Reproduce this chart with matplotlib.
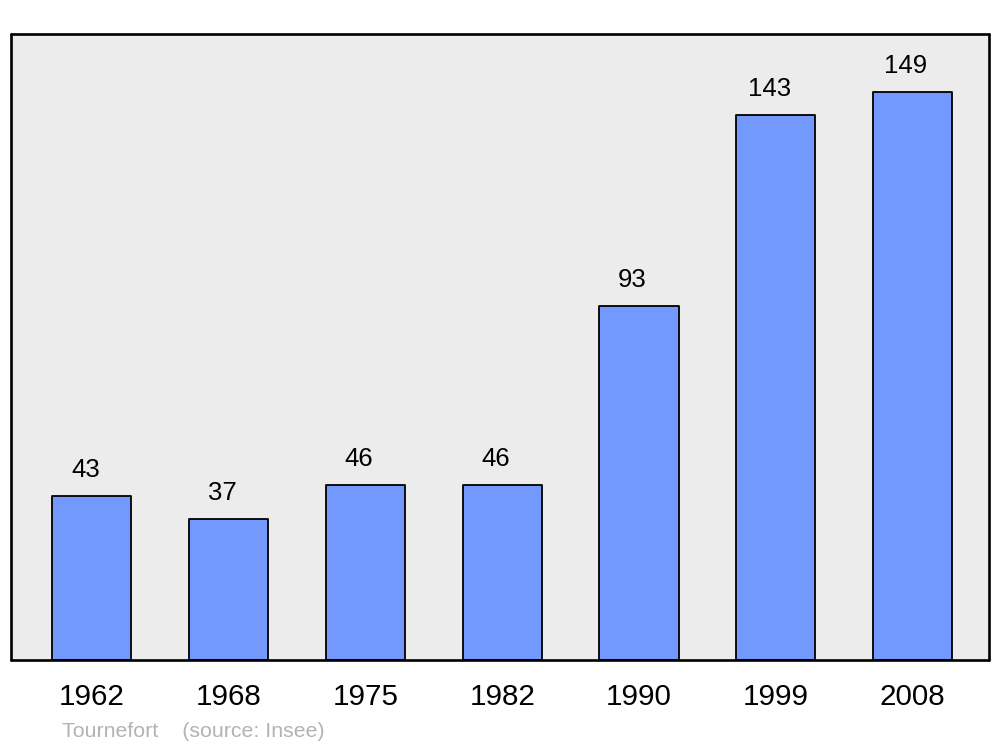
import matplotlib.pyplot as plt

plt.rcParams['font.family'] = ['Liberation Sans', 'DejaVu Sans']

years = ['1962', '1968', '1975', '1982', '1990', '1999', '2008']
population = [43, 37, 46, 46, 93, 143, 149]

fig = plt.figure(figsize=(10, 7.47), dpi=100)
ax = fig.add_axes([0.011, 0.1165, 0.978, 0.838])
ax.set_facecolor('#ececec')

pos = list(range(len(years)))
bars = ax.bar(pos, population, width=0.578, color='#7399ff',
              edgecolor='black', linewidth=1.3, zorder=2)
for b in bars:
    b.set_joinstyle('round')

for x, v in zip(pos, population):
    ax.annotate(str(v), (x, v), xytext=(-4.8, 13.7), textcoords='offset points',
                ha='center', va='baseline', fontsize=18.5)

ax.set_xlim(-0.592, 6.559)
ax.set_ylim(0, 164.3)
ax.set_yticks([])
ax.set_xticks(pos, years, fontsize=21.3)
ax.tick_params(axis='x', length=0, pad=16.5)

for s in ax.spines.values():
    s.set_linewidth(1.9)
    s.set_joinstyle('round')
    s.set_capstyle('round')

fig.text(0.062, 1 - 737 / 747, 'Tournefort    (source: Insee)', fontsize=15.4,
         color='#b3b3b3', ha='left', va='baseline')

fig.savefig('out.png', dpi=100)
